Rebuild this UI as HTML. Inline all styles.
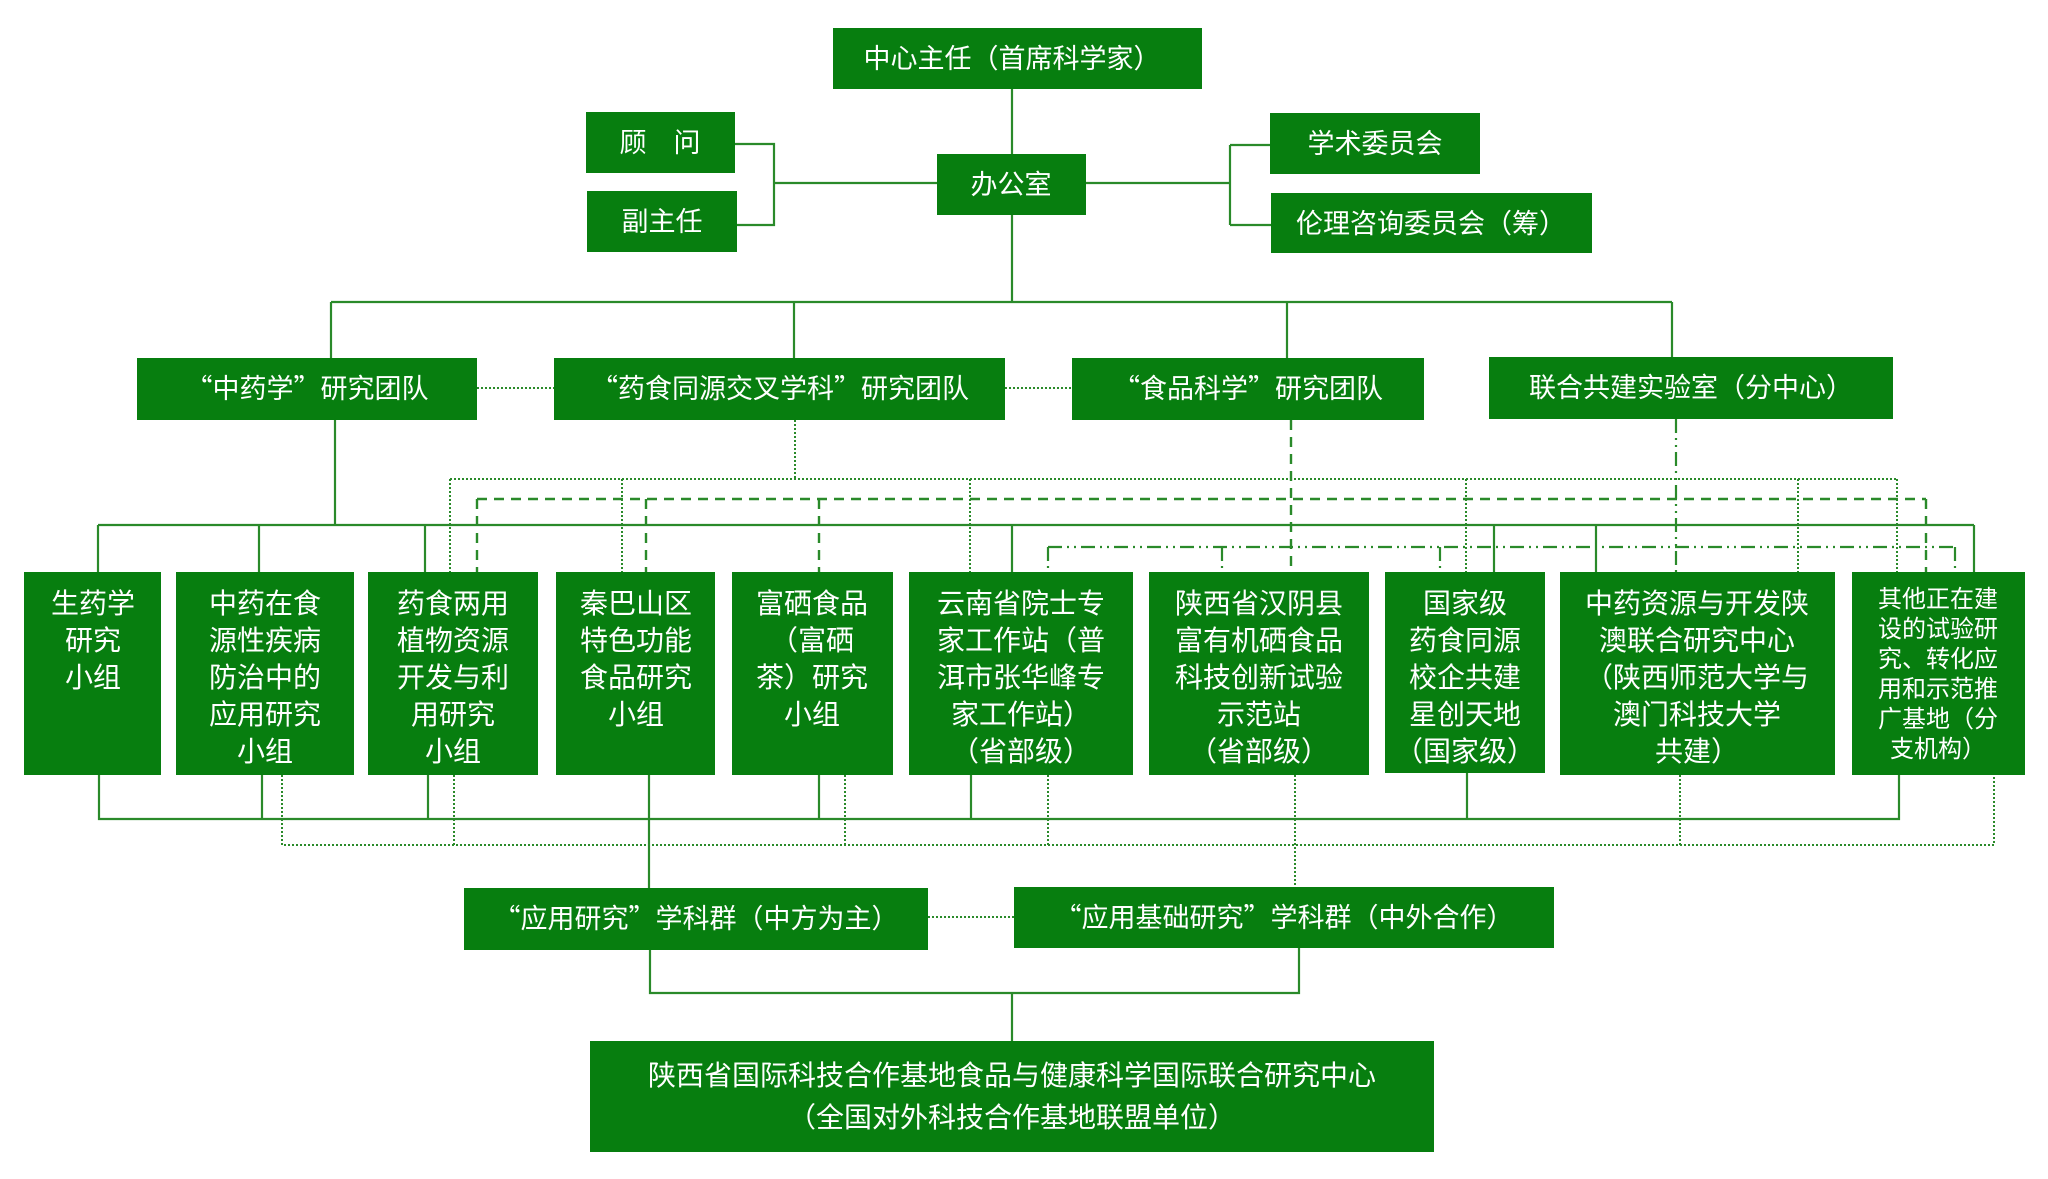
<!DOCTYPE html>
<html><head><meta charset="utf-8"><style>
html,body{margin:0;padding:0;background:#fff;}
svg{display:block}
text{font-family:"Noto Sans CJK SC","Liberation Sans",sans-serif;fill:#fff;text-anchor:middle}
</style></head><body>
<svg width="2048" height="1179" viewBox="0 0 2048 1179" xmlns="http://www.w3.org/2000/svg">
<g fill="none" stroke="#2a8a2a" stroke-width="2.2">
<path d="M1012 89V302M331 302H1672M331 302V358M794 302V358M1287 302V358M1672 302V357"/>
<path d="M735 144H774V225H737M774 183H937M1086 183H1230M1230 145V225M1230 145H1270M1230 225H1271"/>
<path d="M335 420V525M98 525H1974M98 525V572M259 525V572M425 525V572M1012 525V572M1494 525V572M1596 525V572M1974 525V572"/>
<path d="M99 775V819H1899V775M262 775V819M428 775V819M649 775V888M819 775V819M971 775V819M1467 773V819"/>
<path d="M650 950V993H1299V948M1012 993V1041"/>
</g>
<g fill="none" stroke="#2a8a2a" stroke-width="2" stroke-dasharray="2 2">
<path d="M477 388H554M1005 388H1072M928 917H1014"/>
<path d="M795 420V479M450 479H1897M450 479V572M622 479V572M970 479V572M1466 479V572M1798 479V572M1897 479V572"/>
<path d="M282 775V845H1994V775M454 775V845M845 775V845M1048 775V845M1295 775V887M1680 775V845"/>
</g>
<g fill="none" stroke="#2a8a2a" stroke-width="2.4" stroke-dasharray="10 7">
<path d="M1291 420V572M477 499H1926M477 499V572M646 499V572M819 499V572M1926 499V572"/>
</g>
<g fill="none" stroke="#2a8a2a" stroke-width="2.2" stroke-dasharray="14 5 2 5 2 5">
<path d="M1676 419V572M1048 547H1955M1048 547V572M1222 547V572M1440 547V572M1955 547V572"/>
</g>
<g fill="#077e0f">
<rect x="833" y="28" width="369" height="61"/>
<rect x="937" y="154" width="149" height="61"/>
<rect x="586" y="112" width="149" height="61"/>
<rect x="587" y="191" width="150" height="61"/>
<rect x="1270" y="113" width="210" height="61"/>
<rect x="1271" y="193" width="321" height="60"/>
<rect x="137" y="358" width="340" height="62"/>
<rect x="554" y="358" width="451" height="62"/>
<rect x="1072" y="358" width="352" height="62"/>
<rect x="1489" y="357" width="404" height="62"/>
<rect x="24" y="572" width="137" height="203"/>
<rect x="176" y="572" width="178" height="203"/>
<rect x="368" y="572" width="170" height="203"/>
<rect x="556" y="572" width="159" height="203"/>
<rect x="732" y="572" width="161" height="203"/>
<rect x="909" y="572" width="224" height="203"/>
<rect x="1149" y="572" width="220" height="203"/>
<rect x="1385" y="572" width="160" height="201"/>
<rect x="1560" y="572" width="275" height="203"/>
<rect x="1852" y="572" width="173" height="203"/>
<rect x="464" y="888" width="464" height="62"/>
<rect x="1014" y="887" width="540" height="61"/>
<rect x="590" y="1041" width="844" height="111"/>
</g>
<g font-size="27">
<text x="1012" y="68">中心主任（首席科学家）</text>
<text x="1011" y="194">办公室</text>
<text x="660" y="152">顾　问</text>
<text x="662" y="231">副主任</text>
<text x="1375" y="153">学术委员会</text>
<text x="1431" y="233">伦理咨询委员会（筹）</text>
<text x="307" y="398">“中药学”研究团队</text>
<text x="780" y="398">“药食同源交叉学科”研究团队</text>
<text x="1248" y="398">“食品科学”研究团队</text>
<text x="1691" y="397">联合共建实验室（分中心）</text>
<text x="696" y="928">“应用研究”学科群（中方为主）</text>
<text x="1284" y="927">“应用基础研究”学科群（中外合作）</text>
</g>
<g font-size="28">
<text x="1012" y="1085">陕西省国际科技合作基地食品与健康科学国际联合研究中心</text>
<text x="1012" y="1127">（全国对外科技合作基地联盟单位）</text>
</g>
<g font-size="28">
<text x="93" y="613">生药学</text><text x="93" y="650">研究</text><text x="93" y="687">小组</text>
<text x="265" y="613">中药在食</text><text x="265" y="650">源性疾病</text><text x="265" y="687">防治中的</text><text x="265" y="724">应用研究</text><text x="265" y="761">小组</text>
<text x="453" y="613">药食两用</text><text x="453" y="650">植物资源</text><text x="453" y="687">开发与利</text><text x="453" y="724">用研究</text><text x="453" y="761">小组</text>
<text x="636" y="613">秦巴山区</text><text x="636" y="650">特色功能</text><text x="636" y="687">食品研究</text><text x="636" y="724">小组</text>
<text x="812" y="613">富硒食品</text><text x="812" y="650">（富硒</text><text x="812" y="687">茶）研究</text><text x="812" y="724">小组</text>
<text x="1021" y="613">云南省院士专</text><text x="1021" y="650">家工作站（普</text><text x="1021" y="687">洱市张华峰专</text><text x="1021" y="724">家工作站）</text><text x="1021" y="761">（省部级）</text>
<text x="1259" y="613">陕西省汉阴县</text><text x="1259" y="650">富有机硒食品</text><text x="1259" y="687">科技创新试验</text><text x="1259" y="724">示范站</text><text x="1259" y="761">（省部级）</text>
<text x="1465" y="613">国家级</text><text x="1465" y="650">药食同源</text><text x="1465" y="687">校企共建</text><text x="1465" y="724">星创天地</text><text x="1465" y="761">（国家级）</text>
<text x="1697" y="613">中药资源与开发陕</text><text x="1697" y="650">澳联合研究中心</text><text x="1697" y="687">（陕西师范大学与</text><text x="1697" y="724">澳门科技大学</text><text x="1697" y="761">共建）</text>
</g>
<g font-size="24">
<text x="1938" y="607">其他正在建</text><text x="1938" y="637">设的试验研</text><text x="1938" y="667">究、转化应</text><text x="1938" y="697">用和示范推</text><text x="1938" y="727">广基地（分</text><text x="1938" y="757">支机构）</text>
</g>
</svg>
</body></html>
